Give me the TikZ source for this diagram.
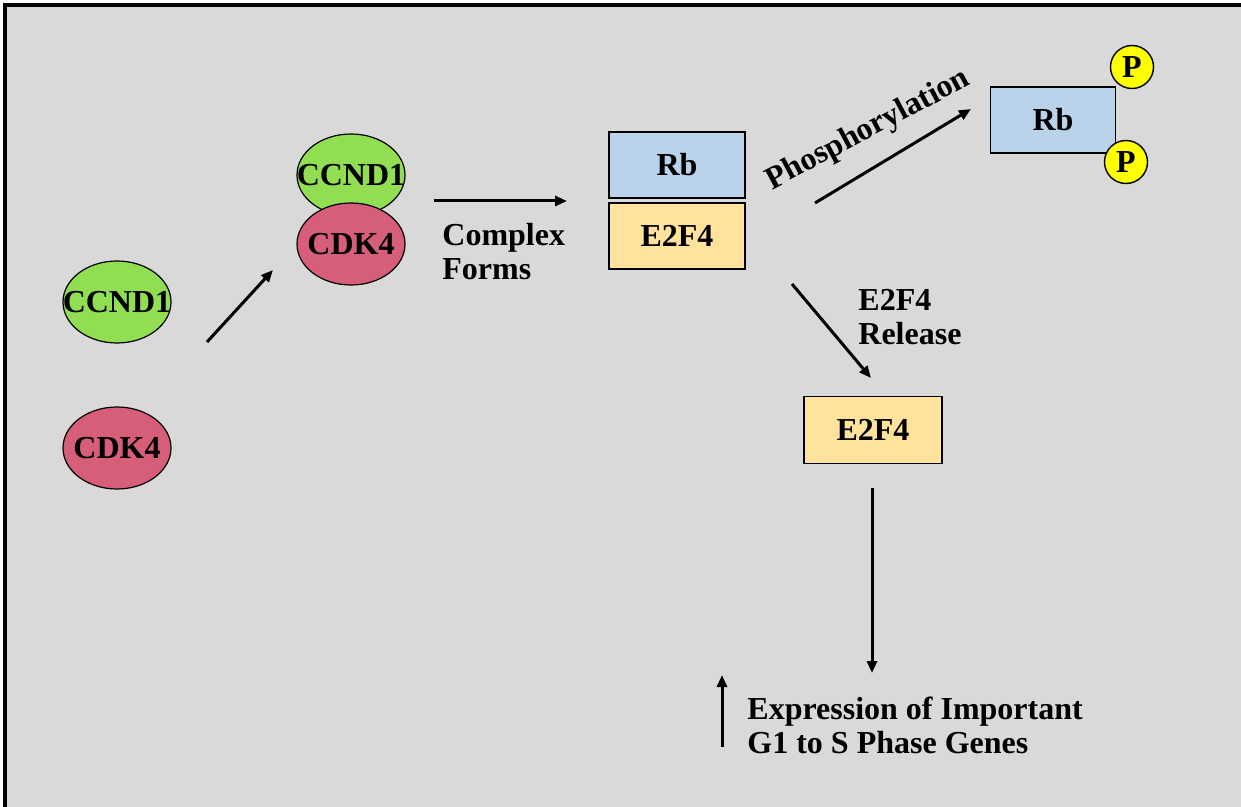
\documentclass[tikz,border=0pt]{standalone}
\usepackage{fontspec}
\setmainfont{Liberation Serif}
\usetikzlibrary{shapes.geometric,arrows.meta}
\definecolor{bg}{RGB}{217,217,217}
\definecolor{cgreen}{RGB}{146,222,82}
\definecolor{cred}{RGB}{214,94,120}
\definecolor{cblue}{RGB}{186,210,234}
\definecolor{cyell}{RGB}{255,226,156}
\definecolor{pyell}{RGB}{255,255,0}
\newcommand{\zw}[1]{\makebox[0pt]{#1}}
\begin{document}
\begin{tikzpicture}[x=0.5pt,y=-0.5pt,
  every node/.style={font=\bfseries\fontsize{16}{17}\selectfont},
  prot/.style={ellipse,draw,line width=0.6pt,minimum width=54pt,minimum height=41pt,inner sep=0pt},
  gbox/.style={rectangle,draw,line width=0.7pt,minimum width=68pt,minimum height=33pt,inner sep=0pt},
  pcirc/.style={circle,draw,fill=pyell,line width=0.7pt,minimum size=21.5pt,inner sep=0pt},
  arr/.style={-{Triangle[length=6pt,width=5pt]},line width=1.5pt},
  lbl/.style={align=left,anchor=base west,inner sep=0pt}]
\useasboundingbox (0,0) rectangle (1241,807);
\fill[white] (0,0) rectangle (1241,807);
\fill[bg] (5,5) rectangle (1241,807);
\draw[line width=1.6pt] (5,812) -- (5,5) -- (1246,5);
% free molecules
\node[prot,fill=cgreen] (c1) at (117,302) {\zw{CCND1}};
\node[prot,fill=cred] (k1) at (117,448) {\zw{CDK4}};
% complex
\node[prot,fill=cgreen] (c2) at (351,175) {\zw{CCND1}};
\node[prot,fill=cred] (k2) at (351,244) {\zw{CDK4}};
% Rb/E2F4 complex
\node[gbox,fill=cblue] (rb) at (677,165) {Rb};
\node[gbox,fill=cyell] (e1) at (677,236) {E2F4};
% phosphorylated Rb
\node[gbox,fill=cblue,minimum width=62.5pt] (rb2) at (1053,120) {Rb};
\node[pcirc] (p1) at (1132,67) {P};
\node[pcirc] (p2) at (1126,162) {P};
% released E2F4
\node[gbox,fill=cyell,minimum width=69pt,minimum height=33.5pt] (e2) at (873,430) {E2F4};
% arrow end points
\coordinate (a1s) at (207,342); \coordinate (a1e) at (273,270);
\coordinate (a2s) at (434,201); \coordinate (a2e) at (567,201);
\coordinate (a3s) at (815,203); \coordinate (a3e) at (971,109);
\coordinate (a4s) at (792,284); \coordinate (a4e) at (871,378);
\coordinate (a5s) at (872,488); \coordinate (a5e) at (872,673);
\coordinate (a6s) at (722,747); \coordinate (a6e) at (722,675);
\draw[arr] (a1s) -- (a1e);
\draw[arr] (a2s) -- (a2e);
\draw[arr] (a3s) -- (a3e);
\draw[arr] (a4s) -- (a4e);
\draw[arr] (a5s) -- (a5e);
\draw[arr] (a6s) -- (a6e);
% labels
\node[lbl] (tcf) at (442,280) {Complex\\Forms};
\node[anchor=base,rotate=28,inner sep=0pt] (tph) at (872,137) {Phosphorylation};
\node[lbl] (trel) at (858,344) {E2F4\\Release};
\node[lbl] (texp) at (747,753) {Expression of Important\\G1 to S Phase Genes};
\end{tikzpicture}
\end{document}
